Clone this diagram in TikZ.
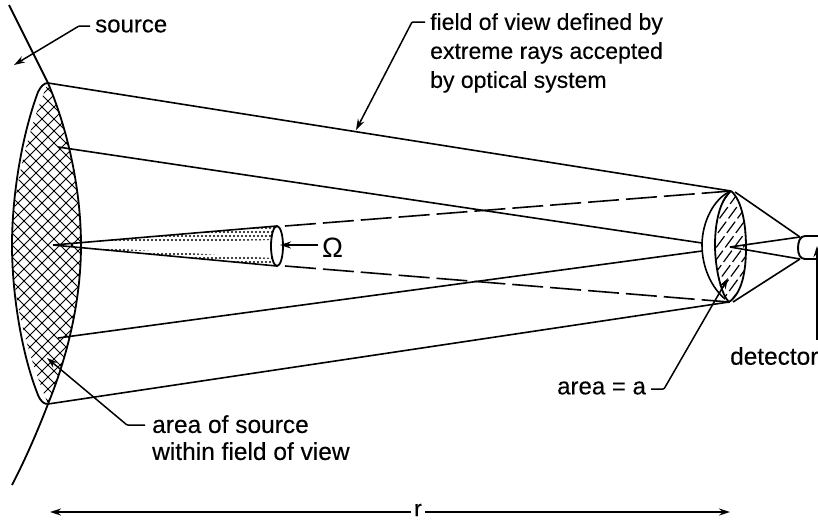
\documentclass[tikz,border=0pt]{standalone}
\usepackage{fontspec}
\setmainfont{Liberation Sans}
\usetikzlibrary{arrows.meta,calc}
\tikzset{
  ink/.style={line width=1.6pt,black},
  leader/.style={line width=1.5pt,black,-{Stealth[length=11pt,width=7pt]},rounded corners=1pt},
  lbl/.style={inner sep=0pt,align=left,font=\fontsize{23}{29}\selectfont\addfontfeatures{FakeBold=0.25}},
  dashray/.style={line width=1.6pt,dash pattern=on 31pt off 7pt},
}
\begin{document}
\begin{tikzpicture}[x=1pt,y=-1pt]
\useasboundingbox (0,0) rectangle (818,523);
\fill[white] (0,0) rectangle (818,523);
% named points
\coordinate (srcTop) at (48,83);
\coordinate (srcBot) at (48,404);
\coordinate (srcUp) at (58,147);
\coordinate (srcLow) at (58,338);
\coordinate (lensTop) at (731,191);
\coordinate (lensBot) at (729,302);
\coordinate (lensL1) at (702,243);
\coordinate (lensL2) at (702,251);
\coordinate (focus) at (730,247);
\coordinate (detTop) at (800,237);
\coordinate (detBot) at (800,259);
\coordinate (apex) at (53,245);
\coordinate (coneTop) at (277,226);
\coordinate (coneBot) at (277,266);
% source lens hatch
\begin{scope}
\clip (srcTop) .. controls (70,135) and (81,195) .. (81,245) .. controls (81,295) and (70,350) .. (srcBot) .. controls (26,350) and (12,295) .. (12,245) .. controls (12,195) and (26,135) .. (srcTop) -- cycle;
\foreach \k in {-36,...,36}{
  \draw[line width=.95pt] (48+\k*12-170,245-170) -- (48+\k*12+170,245+170);
  \draw[line width=.95pt] (48+\k*12+170,245-170) -- (48+\k*12-170,245+170);
}
\end{scope}
% source curve and lens outline
\draw[ink,line width=1.8pt] (9,5) -- (srcTop) .. controls (70,135) and (81,195) .. (81,245) .. controls (81,295) and (70,350) .. (srcBot) .. controls (38,430) and (26,458) .. (12,485);
\draw[ink,line width=1.8pt] (srcTop) .. controls (44,83) and (41,86) .. (38,92) .. controls (22,135) and (12,195) .. (12,245) .. controls (12,295) and (22,355) .. (38,395) .. controls (41,402) and (44,404) .. (srcBot);
% rays
\draw[ink] (srcTop) -- (lensTop);
\draw[ink] (srcBot) -- (lensBot);
\draw[ink] (srcUp) -- (lensL1);
\draw[ink] (srcLow) -- (lensL2);
\draw[dashray] (285,226) -- (lensTop);
\draw[dashray] (285,266) -- (lensBot);
% cone dots
\begin{scope}
\clip (apex) -- (coneTop) -- (272,240) -- cycle;
\foreach \i in {0,...,56}{\foreach \j in {0,...,4}{
  \fill (60+\i*4+\j*2,224+\j*4) circle (1.05pt);
}}
\end{scope}
\begin{scope}
\clip (apex) -- (coneBot) -- (272,258) -- cycle;
\foreach \i in {0,...,56}{\foreach \j in {0,...,3}{
  \fill (60+\i*4+\j*2,250+\j*4) circle (1.05pt);
}}
\end{scope}
\draw[ink] (apex) -- (coneTop);
\draw[ink] (apex) -- (coneBot);
\fill[white] (277,246) ellipse (6 and 20);
\draw[ink,line width=1.8pt] (277,246) ellipse (6 and 20);
% receiving lens
\begin{scope}
\clip (lensTop) .. controls (742,200) and (746,225) .. (746,247) .. controls (746,272) and (742,293) .. (lensBot) .. controls (722,296) and (715,270) .. (715,245) .. controls (715,222) and (720,200) .. (lensTop) -- cycle;
\draw[line width=1.2pt,dash pattern=on 14pt off 4pt] foreach \k in {-6,...,12}{ (690+\k*9,320) -- (690+\k*9+110,320-150) };
\end{scope}
\draw[ink,line width=1.8pt] (lensTop) .. controls (742,200) and (746,225) .. (746,247) .. controls (746,272) and (742,293) .. (lensBot) .. controls (722,296) and (715,270) .. (715,245) .. controls (715,222) and (720,200) .. (lensTop);
\draw[ink] (lensTop) .. controls (714,198) and (702,222) .. (702,245) .. controls (702,268) and (712,288) .. (725,299);
% to detector
\draw[ink] (735,192) -- (detTop);
\draw[ink] (733,302) -- (detBot);
\draw[ink] (focus) -- (detTop);
\draw[ink] (focus) -- (detBot);
\draw[ink,line width=1.9pt] (818,236) -- (805,236) .. controls (800,236) and (798,242) .. (798,248) .. controls (798,254) and (800,259) .. (805,259) -- (818,259);
% labels
\node[lbl,anchor=west,font=\fontsize{24}{29}\selectfont\addfontfeatures{FakeBold=0.25}] (lsrc) at (95,26) {source};
\node[lbl,anchor=north west] (lfov) at (430,13) {field of view defined by\\extreme rays accepted\\by optical system};
\node[lbl,anchor=west,font=\fontsize{28}{29}\selectfont] (lom) at (322,248) {Ω};
\node[lbl,anchor=west,font=\fontsize{24.4}{29}\selectfont\addfontfeatures{FakeBold=0.25}] (ldet) at (730,356) {detector};
\node[lbl,anchor=west,font=\fontsize{24}{29}\selectfont\addfontfeatures{FakeBold=0.25}] (larea) at (557,388) {area = a};
\node[lbl,anchor=north west,font=\fontsize{24.5}{27}\selectfont\addfontfeatures{FakeBold=0.25}] (lsa) at (152,415) {area of source\\within field of view};
\node[lbl,anchor=center] (lr) at (418,510) {r};
% leaders
\draw[leader] (lsrc.west)++(-5,0) -- ++(-11,0) -- (14,65);
\draw[leader] (lfov.north west)++(-5,9) -- ++(-13,0) -- (356,130);
\draw[leader] (lsa.north west)++(-7,10) -- ++(-18,0) -- (47,358);
\draw[leader] (larea.east)++(5,1) -- (664,389) -- (728,278);
\draw[leader] (817,340) -- (817,246);
\draw[leader] (lom.west)++(-4,-3) -- (280,245);
\draw[leader] (lr.west)++(-3,2) -- (50,512);
\draw[leader] (lr.east)++(3,2) -- (730,512);
\end{tikzpicture}
\end{document}
